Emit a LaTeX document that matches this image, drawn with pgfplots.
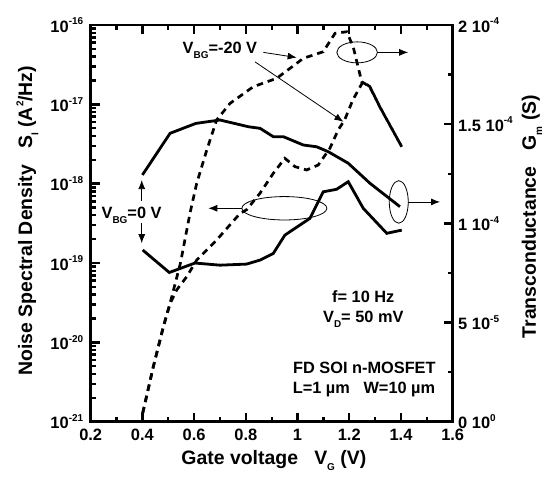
\documentclass[border=0pt]{standalone}
\usepackage{pgfplots}
\pgfplotsset{compat=1.18}
\usepackage{fontspec}
\setmainfont{Liberation Sans}
\usetikzlibrary{arrows.meta}
\newcommand{\sub}[1]{\raisebox{-0.6ex}{\fontsize{10}{10}\selectfont #1}}
\newcommand{\sps}[1]{\raisebox{0.85ex}{\fontsize{10}{10}\selectfont #1}}
\begin{document}
\begin{tikzpicture}
\path[use as bounding box] (-90.7bp,-62.3bp) rectangle (464.3bp,421.7bp);
\pgfplotsset{
  every axis/.append style={
    scale only axis, width=362bp, height=396.7bp,
    at={(0,0)}, anchor=south west,
    xmin=0.2, xmax=1.6,
    axis line style={line width=2.6bp},
    tick style={black, line width=2.4bp},
    major tick length=9bp, minor tick length=5bp,
    tick align=inside,
    tick label style={font=\fontsize{16.5}{16}\selectfont\bfseries},
    label style={font=\fontsize{19.5}{20}\selectfont\bfseries},
  },
  dashedline/.style={black, line width=2.7bp, dash pattern=on 6.5bp off 5bp},
  solidline/.style={black, line width=2.8bp},
}
% left axis: noise spectral density
\begin{axis}[
  ymode=log, ymin=1e-21, ymax=1e-16,
  xtick={0.2,0.4,0.6,0.8,1.0,1.2,1.4,1.6},
  xticklabels={0.2,0.4,0.6,0.8,1,1.2,1.4,1.6},
  minor x tick num=1,
  xtick pos=both, ytick pos=left,
  ytick={1e-21,1e-20,1e-19,1e-18,1e-17,1e-16},
  yticklabels={10\sps{-21},10\sps{-20},10\sps{-19},10\sps{-18},10\sps{-17},10\sps{-16}},
  xticklabel style={yshift=-4bp},
  yticklabel style={xshift=-4bp},
  xlabel={Gate voltage\ \ \ V\sub{G} (V)},
  ylabel={Noise Spectral Density\ \ \ S\sub{I} (A\sps{2}/Hz)},
  xlabel style={at={(axis description cs:0.506,-0.097)}, anchor=center},
  ylabel style={at={(axis description cs:-0.175,0.507)}, anchor=center},
]
% V_BG = 0 V, noise
\addplot[solidline] coordinates {
  (0.401,1.46e-19)(0.504,7.6e-20)(0.603,1.0e-19)(0.70,9.4e-20)(0.803,9.7e-20)
  (0.855,1.09e-19)(0.906,1.32e-19)(0.951,2.25e-19)(1.048,3.66e-19)(1.099,7.9e-19)
  (1.151,8.5e-19)(1.196,1.06e-18)(1.254,4.9e-19)(1.345,2.37e-19)(1.403,2.6e-19)
};
% V_BG = -20 V, noise
\addplot[dashedline] coordinates {
  (0.401,1.28e-21)(0.442,4.9e-21)(0.481,1.57e-20)(0.507,3.1e-20)(0.533,4.6e-20)
  (0.571,6.7e-20)(0.610,1.09e-19)(0.687,1.95e-19)(0.777,4.2e-19)(0.803,4.7e-19)
  (0.855,7.6e-19)(0.906,1.35e-18)(0.951,2.09e-18)(0.990,1.64e-18)(1.035,1.49e-18)
  (1.080,1.72e-18)(1.125,2.79e-18)(1.157,4.75e-18)(1.182,6.35e-18)(1.214,1.14e-17)
  (1.253,1.93e-17)(1.280,1.67e-17)(1.318,9.3e-18)(1.403,2.92e-18)
};
\end{axis}
% right axis: transconductance
\begin{axis}[
  axis y line*=right, axis x line=none,
  ymin=0, ymax=2e-4,
  ytick={0,0.5e-4,1e-4,1.5e-4,2e-4},
  yticklabels={0 10\sps{0},5 10\sps{-5},1 10\sps{-4},1.5 10\sps{-4},2 10\sps{-4}},
  minor y tick num=1,
  scaled y ticks=false,
  yticklabel style={xshift=2bp},
  ylabel={Transconductance\ \ \ G\sub{m} (S)},
  ylabel style={at={(axis description cs:1.219,0.517)}, anchor=center},
  clip=false,
]
% V_BG = 0 V, Gm
\addplot[solidline] coordinates {
  (0.400,1.244e-4)(0.507,1.454e-4)(0.607,1.504e-4)(0.700,1.521e-4)(0.810,1.487e-4)
  (0.855,1.479e-4)(0.906,1.437e-4)(0.945,1.437e-4)(1.022,1.395e-4)(1.074,1.386e-4)
  (1.119,1.361e-4)(1.196,1.303e-4)(1.280,1.202e-4)(1.396,1.084e-4)
};
% V_BG = -20 V, Gm
\addplot[dashedline] coordinates {
  (0.401,4.2e-6)(0.442,2.77e-5)(0.481,4.79e-5)(0.507,5.97e-5)(0.547,7.99e-5)
  (0.584,1.051e-4)(0.610,1.202e-4)(0.649,1.370e-4)(0.687,1.521e-4)(0.739,1.605e-4)
  (0.829,1.689e-4)(0.919,1.731e-4)(0.997,1.807e-4)(1.022,1.832e-4)(1.099,1.865e-4)
  (1.145,1.958e-4)(1.190,1.966e-4)(1.215,1.891e-4)(1.248,1.714e-4)(1.279,1.689e-4)
  (1.318,1.588e-4)(1.403,1.386e-4)
};
% annotations
\tikzset{arr/.style={-{Latex[length=9bp,width=7bp]}, line width=0.8bp}}
\draw[line width=0.8bp] (rel axis cs:0.736,0.931) ellipse [x radius=20.3bp, y radius=10.5bp];
\draw[arr] (rel axis cs:0.792,0.931) -- (rel axis cs:0.877,0.931);
\draw[line width=0.8bp] (rel axis cs:0.535,0.538) ellipse [x radius=42.5bp, y radius=11.7bp];
\draw[arr] (rel axis cs:0.417,0.538) -- (rel axis cs:0.325,0.538);
\draw[line width=0.8bp] (rel axis cs:0.851,0.554) ellipse [x radius=9.5bp, y radius=21.3bp];
\draw[arr] (rel axis cs:0.877,0.554) -- (rel axis cs:0.965,0.554);
\draw[arr] (rel axis cs:0.477,0.931) -- (rel axis cs:0.569,0.918);
\draw[arr] (rel axis cs:0.454,0.907) -- (rel axis cs:0.698,0.756);
\draw[arr] (rel axis cs:0.141,0.557) -- (rel axis cs:0.141,0.609);
\draw[arr] (rel axis cs:0.141,0.502) -- (rel axis cs:0.141,0.450);
\begin{scope}[every node/.style={font=\fontsize{16.4}{18}\selectfont\bfseries, inner sep=0pt}]
\node[anchor=base] at (rel axis cs:0.357,0.929) {V\sub{BG}=-20 V};
\node[anchor=base, fill=white, inner xsep=1bp] at (rel axis cs:0.113,0.513) {V\sub{BG}=0 V};
\node[anchor=base] at (rel axis cs:0.753,0.300) {f= 10 Hz};
\node[anchor=base] at (rel axis cs:0.753,0.250) {V\sub{D}= 50 mV};
\node[anchor=base] at (rel axis cs:0.756,0.122) {FD SOI n-MOSFET};
\node[anchor=base] at (rel axis cs:0.755,0.072) {L=1 µm\ \ \ W=10 µm};
\end{scope}
\end{axis}
\end{tikzpicture}
\end{document}
